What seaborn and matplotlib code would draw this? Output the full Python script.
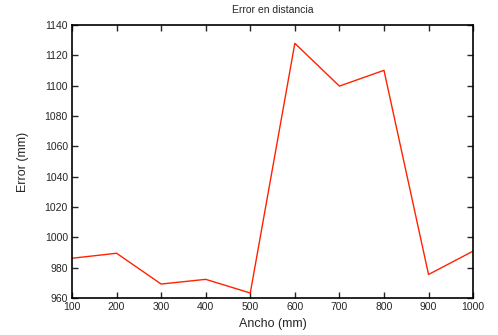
import matplotlib
matplotlib.use("Agg")
import matplotlib.pyplot as plt
import seaborn as sns
import pandas as pd

# data
ancho = [100, 200, 300, 400, 500, 600, 700, 800, 900, 1000]
error = [986.3, 989.6, 969.3, 972.4, 963.4, 1128.0, 1099.8, 1110.2, 975.6, 991.0]

df = pd.DataFrame({"Ancho": ancho, "Error": error})

sns.set_style("ticks")
plt.rcParams["font.family"] = ["Liberation Sans", "DejaVu Sans"]

fig = plt.figure(figsize=(4.98, 3.35), dpi=100)
ax = fig.add_axes([0.1446, 0.110, 0.8054, 0.815])

sns.lineplot(data=df, x="Ancho", y="Error", color="#ff2200", linewidth=1.0, ax=ax)

ax.set_xlim(100, 1000)
ax.set_ylim(960, 1140)
ax.set_xticks(range(100, 1001, 100))
ax.set_yticks(range(960, 1141, 20))
ax.tick_params(direction="in", length=4, width=1, labelsize=7.5, top=True, right=True, pad=3)
for s in ax.spines.values():
    s.set_visible(True)
    s.set_linewidth(1.2)
    s.set_color("black")

ax.set_title("Error en distancia", fontsize=7.5, pad=9)
ax.set_xlabel("Ancho (mm)", fontsize=9, labelpad=4)
ax.set_ylabel("Error (mm)", fontsize=9, labelpad=11)

fig.savefig("out.png", dpi=100)
